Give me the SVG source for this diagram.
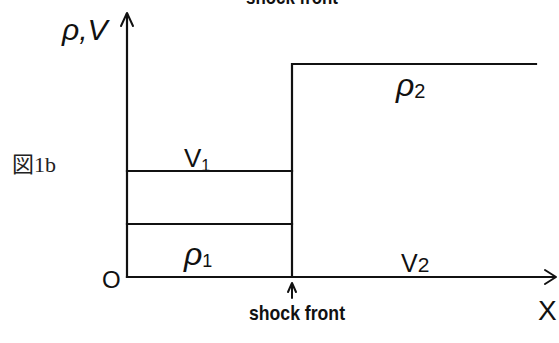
<svg xmlns="http://www.w3.org/2000/svg" width="559" height="343" viewBox="0 0 559 343">
<defs>
<style>
.ln{stroke:#111;stroke-width:2.2;fill:none;stroke-linecap:square}
.ah{stroke:#111;stroke-width:2;fill:none;stroke-linecap:round;stroke-linejoin:round}
.t{font-family:"Liberation Sans",Arial,sans-serif;fill:#111}
.it{font-family:"Liberation Sans",Arial,sans-serif;font-style:italic;fill:#111}
.jp{font-family:"Liberation Serif","Noto Sans CJK JP",serif;fill:#222}
.sf{font-family:"Liberation Sans",Arial,sans-serif;fill:#111;font-size:21px;font-weight:bold}
</style>
</defs>
<rect width="559" height="343" fill="#fff"/>
<g id="connectors">
<path class="ln" d="M127,277 V14"/>
<path class="ah" d="M121,26 L127,13 L133,26"/>
<path class="ln" d="M127,277 H554"/>
<path class="ah" d="M545,270 L556,277 L545,284"/>
<path class="ln" d="M292,277 V64 H536"/>
<path class="ln" d="M127,171 H292"/>
<path class="ln" d="M127,224 H292"/>
<path class="ah" d="M292,298 V284 M288,292 L292,283 L296,292"/>
</g>
<g id="axis-y-label"><text class="it" x="62" y="40" font-size="30">ρ,V</text></g>
<g id="origin"><text class="t" x="102" y="288" font-size="24">O</text></g>
<g id="axis-x-label"><text class="t" x="538" y="320" font-size="28">X</text></g>
<g id="label-v1"><text class="t" x="184" y="167" font-size="26">V<tspan font-size="16" dy="4">1</tspan></text></g>
<g id="label-rho1"><text class="it" x="184" y="265" font-size="32">ρ<tspan font-style="normal" font-size="18" dy="2">1</tspan></text></g>
<g id="label-rho2"><text class="it" x="396" y="96" font-size="32">ρ<tspan font-style="normal" font-size="20" dy="2">2</tspan></text></g>
<g id="label-v2"><text class="t" x="401" y="272" font-size="25">V<tspan font-size="21">2</tspan></text></g>
<g id="fig-label"><text class="jp" x="12" y="172" font-size="22">図1b</text></g>
<g id="shock-front-bottom"><text class="sf" x="249" y="320" textLength="96" lengthAdjust="spacingAndGlyphs">shock front</text></g>
<g id="shock-front-top"><text class="sf" x="246" y="4" textLength="92" lengthAdjust="spacingAndGlyphs">shock front</text></g>
</svg>
